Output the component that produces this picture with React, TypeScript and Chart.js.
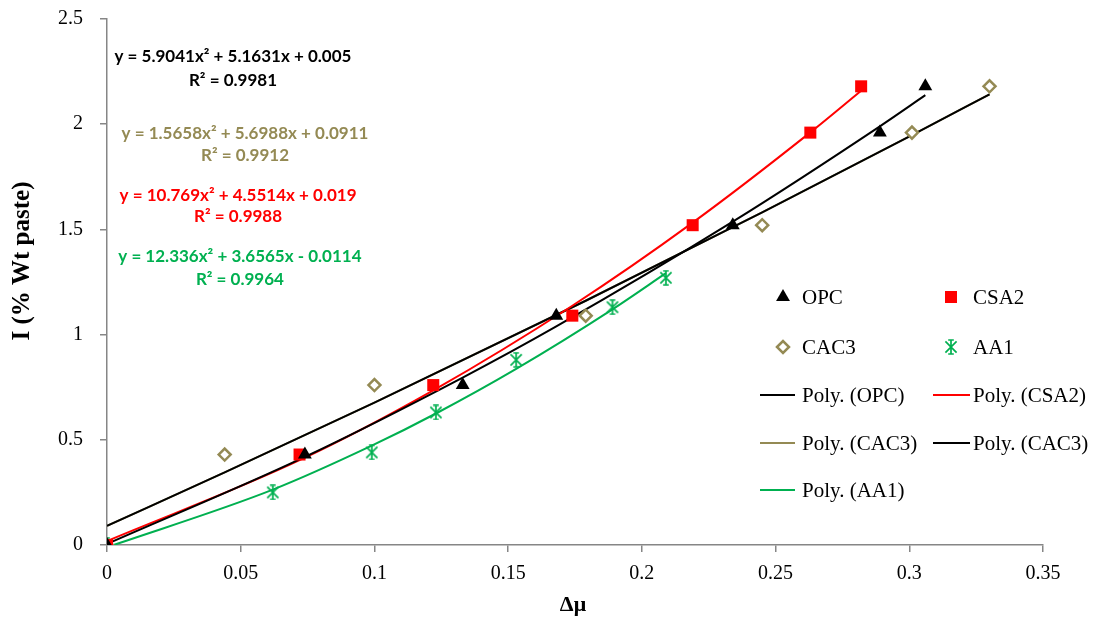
import React, { useEffect, useRef } from "react";
import { Chart, registerables } from "chart.js";

Chart.register(...registerables);

// ---------- data ----------
const xTicks = [0, 0.05, 0.1, 0.15, 0.2, 0.25, 0.3, 0.35];
const yTicks = [0, 0.5, 1, 1.5, 2, 2.5];

const opcX = [0, 0.074, 0.133, 0.168, 0.234, 0.289, 0.306];
const opcY = [0, 0.43, 0.76, 1.09, 1.52, 1.96, 2.18];
const csa2X = [0, 0.072, 0.122, 0.174, 0.219, 0.263, 0.282];
const csa2Y = [0, 0.43, 0.76, 1.09, 1.52, 1.96, 2.18];
const cac3X = [0, 0.044, 0.1, 0.179, 0.245, 0.301, 0.33];
const cac3Y = [0, 0.43, 0.76, 1.09, 1.52, 1.96, 2.18];
const aa1X = [0, 0.062, 0.099, 0.123, 0.153, 0.189, 0.209];
const aa1Y = [0, 0.25, 0.44, 0.63, 0.88, 1.13, 1.27];

// trendline values (fitted curves as shown) at the data x positions
const opcFitY = [0.005, 0.419, 0.796, 1.039, 1.537, 1.99, 2.138];
const csa2FitY = [0.019, 0.403, 0.735, 1.137, 1.532, 1.961, 2.159];
const cac3FitY = [0.091, 0.345, 0.677, 1.161, 1.581, 1.948, 2.142];
const aa1FitY = [-0.011, 0.263, 0.472, 0.625, 0.837, 1.12, 1.292];

const equations = [
  { text: "y = 5.9041x\u00b2 + 5.1631x + 0.005", r2: "R\u00b2 = 0.9981", color: "#000000", x: 0.0471, y: 2.32, y2: 2.21 },
  { text: "y = 1.5658x\u00b2 + 5.6988x + 0.0911", r2: "R\u00b2 = 0.9912", color: "#948A54", x: 0.0516, y: 1.958, y2: 1.849 },
  { text: "y = 10.769x\u00b2 + 4.5514x + 0.019", r2: "R\u00b2 = 0.9988", color: "#FF0000", x: 0.049, y: 1.663, y2: 1.559 },
  { text: "y = 12.336x\u00b2 + 3.6565x - 0.0114", r2: "R\u00b2 = 0.9964", color: "#00B050", x: 0.0497, y: 1.369, y2: 1.264 },
];

// ---------- styles ----------
const BLACK = "#000000";
const RED = "#FF0000";
const OLIVE = "#948A54";
const GREEN = "#00B050";
const AXIS = "#868686";
const SERIF = "'Liberation Serif', 'Times New Roman', serif";
const EQFONT = "Lato, 'Open Sans', sans-serif";

const pts = (xs: number[], ys: number[]) => xs.map((x, i) => ({ x, y: ys[i] }));
const fmt = (v: number) => String(parseFloat(v.toFixed(2)));

function makeStar(color: string, size: number): HTMLCanvasElement {
  const c = document.createElement("canvas");
  c.width = size;
  c.height = size;
  const g = c.getContext("2d")!;
  g.strokeStyle = color;
  g.lineWidth = 1.7;
  const m = size / 2;
  const r = size / 2 - 1;
  g.beginPath();
  g.moveTo(m, m - r);
  g.lineTo(m, m + r);
  g.moveTo(m - r * 0.4, m - r);
  g.lineTo(m + r * 0.4, m - r);
  g.moveTo(m - r * 0.4, m + r);
  g.lineTo(m + r * 0.4, m + r);
  g.moveTo(m - r * 0.8, m - r * 0.8);
  g.lineTo(m + r * 0.8, m + r * 0.8);
  g.moveTo(m + r * 0.8, m - r * 0.8);
  g.lineTo(m - r * 0.8, m + r * 0.8);
  g.stroke();
  return c;
}

function drawMarker(ctx: CanvasRenderingContext2D, kind: string, x: number, y: number, star: HTMLCanvasElement) {
  ctx.save();
  if (kind === "triangle") {
    const r = 8;
    ctx.fillStyle = BLACK;
    ctx.beginPath();
    ctx.moveTo(x, y - r);
    ctx.lineTo(x + r * 0.866, y + r * 0.5);
    ctx.lineTo(x - r * 0.866, y + r * 0.5);
    ctx.closePath();
    ctx.fill();
  } else if (kind === "rect") {
    ctx.fillStyle = RED;
    ctx.fillRect(x - 6, y - 6, 12, 12);
  } else if (kind === "diamond") {
    const r = 6;
    ctx.fillStyle = "#ffffff";
    ctx.strokeStyle = OLIVE;
    ctx.lineWidth = 2.5;
    ctx.beginPath();
    ctx.moveTo(x - r, y);
    ctx.lineTo(x, y - r);
    ctx.lineTo(x + r, y);
    ctx.lineTo(x, y + r);
    ctx.closePath();
    ctx.fill();
    ctx.stroke();
  } else if (kind === "star") {
    ctx.drawImage(star, x - star.width / 2, y - star.height / 2);
  }
  ctx.restore();
}

const legendEntries = [
  { label: "OPC", kind: "triangle", color: BLACK },
  { label: "CSA2", kind: "rect", color: RED },
  { label: "CAC3", kind: "diamond", color: OLIVE },
  { label: "AA1", kind: "star", color: GREEN },
  { label: "Poly. (OPC)", kind: "line", color: BLACK },
  { label: "Poly. (CSA2)", kind: "line", color: RED },
  { label: "Poly. (CAC3)", kind: "line", color: OLIVE },
  { label: "Poly. (CAC3)", kind: "line", color: BLACK },
  { label: "Poly. (AA1)", kind: "line", color: GREEN },
];

export default function App() {
  const ref = useRef<HTMLCanvasElement>(null);

  useEffect(() => {
    const star = makeStar(GREEN, 16);

    const overlay = {
      id: "overlay",
      afterDraw(chart: any) {
        const ctx: CanvasRenderingContext2D = chart.ctx;
        const ca = chart.chartArea;
        const xs = chart.scales.x;
        const ys = chart.scales.y;

        // equations
        ctx.save();
        ctx.textAlign = "center";
        ctx.textBaseline = "middle";
        ctx.font = `bold 17px ${EQFONT}`;
        for (const e of equations) {
          ctx.fillStyle = e.color;
          const px = xs.getPixelForValue(e.x);
          ctx.fillText(e.text, px, ys.getPixelForValue(e.y));
          ctx.fillText(e.r2, px, ys.getPixelForValue(e.y2));
        }
        ctx.restore();

        // legend
        const rowY = [278, 328, 376, 424, 471];
        const markerX = [676, 844];
        const textX = [695, 866];
        const lineX = [[653, 688], [826, 863]];
        ctx.save();
        ctx.font = `21px ${SERIF}`;
        ctx.textBaseline = "middle";
        ctx.textAlign = "left";
        legendEntries.forEach((en, i) => {
          const row = Math.floor(i / 2);
          const col = i % 2;
          const y = ca.top + rowY[row];
          if (en.kind === "line") {
            ctx.strokeStyle = en.color;
            ctx.lineWidth = 2;
            ctx.beginPath();
            ctx.moveTo(ca.left + lineX[col][0], y);
            ctx.lineTo(ca.left + lineX[col][1], y);
            ctx.stroke();
          } else {
            drawMarker(ctx, en.kind, ca.left + markerX[col], y, star);
          }
          ctx.fillStyle = "#000";
          ctx.fillText(en.label, ca.left + textX[col], y + 1);
        });
        ctx.restore();

        // axis titles
        ctx.save();
        ctx.fillStyle = "#000";
        ctx.textAlign = "center";
        ctx.textBaseline = "middle";
        ctx.font = `bold 22px ${SERIF}`;
        ctx.fillText("\u0394\u03bc", (ca.left + ca.right) / 2 - 2, ca.bottom + 60);
        ctx.translate(23, ca.top + 242);
        ctx.rotate(-Math.PI / 2);
        ctx.font = `bold 25px ${SERIF}`;
        ctx.fillText("I (% Wt paste)", 0, 0);
        ctx.restore();
      },
    };

    const tickFont = { family: SERIF, size: 20 };
    const lineCommon = { showLine: true, pointRadius: 0, borderWidth: 2, cubicInterpolationMode: "monotone" };

    const chart = new Chart(ref.current!, {
      type: "scatter",
      data: {
        datasets: [
          { label: "OPC", data: pts(opcX, opcY), pointStyle: "triangle", pointRadius: 8, backgroundColor: BLACK, borderColor: BLACK, borderWidth: 0, order: 0 },
          { label: "CSA2", data: pts(csa2X, csa2Y), pointStyle: "rect", pointRadius: 8.5, backgroundColor: RED, borderColor: RED, borderWidth: 0, order: 0 },
          { label: "CAC3", data: pts(cac3X, cac3Y), pointStyle: "rectRot", pointRadius: 6, backgroundColor: "#ffffff", borderColor: OLIVE, borderWidth: 2.5, order: 0 },
          { label: "AA1", data: pts(aa1X, aa1Y), pointStyle: star, pointRadius: 8, backgroundColor: GREEN, borderColor: GREEN, order: 0 },
          { label: "Poly. (OPC)", data: pts(opcX, opcFitY), ...lineCommon, borderColor: BLACK, order: 1 },
          { label: "Poly. (CSA2)", data: pts(csa2X, csa2FitY), ...lineCommon, borderColor: RED, order: 1 },
          { label: "Poly. (CAC3)", data: pts(cac3X, cac3FitY), ...lineCommon, borderColor: OLIVE, order: 2 },
          { label: "Poly. (CAC3) ", data: pts(cac3X, cac3FitY), ...lineCommon, borderColor: BLACK, order: 1 },
          { label: "Poly. (AA1)", data: pts(aa1X, aa1FitY), ...lineCommon, borderColor: GREEN, order: 1 },
        ] as any,
      },
      options: {
        animation: false,
        responsive: true,
        maintainAspectRatio: false,
        layout: { padding: { top: 19, right: 56, left: 0, bottom: 0 } },
        plugins: { legend: { display: false }, tooltip: { enabled: false } },
        scales: {
          x: {
            type: "linear",
            min: 0,
            max: 0.35,
            afterBuildTicks: (s: any) => {
              s.ticks = xTicks.map((v) => ({ value: v }));
            },
            afterFit: (s: any) => {
              s.height = 78;
              s.paddingLeft = 0;
              s.paddingRight = 0;
            },
            ticks: {
              callback: (v: any) => fmt(Number(v)),
              font: tickFont,
              color: "#000",
              padding: 10,
              maxRotation: 0,
              autoSkip: false,
            },
            grid: { drawOnChartArea: false, drawTicks: true, tickLength: 7, color: AXIS, lineWidth: 1.5 },
            border: { display: true, color: AXIS, width: 1.5 },
          },
          y: {
            type: "linear",
            min: 0,
            max: 2.5,
            afterBuildTicks: (s: any) => {
              s.ticks = yTicks.map((v) => ({ value: v }));
            },
            afterFit: (s: any) => {
              s.width = 107;
              s.paddingTop = 0;
              s.paddingBottom = 0;
            },
            ticks: {
              callback: (v: any) => fmt(Number(v)),
              font: tickFont,
              color: "#000",
              padding: 17,
              autoSkip: false,
            },
            grid: { drawOnChartArea: false, drawTicks: true, tickLength: 7, color: AXIS, lineWidth: 1.5 },
            border: { display: true, color: AXIS, width: 1.5 },
          },
        },
      } as any,
      plugins: [overlay],
    });

    return () => chart.destroy();
  }, []);

  return (
    <div style={{ position: "fixed", left: 0, top: 0, width: 1099, height: 623, background: "#ffffff" }}>
      <canvas ref={ref} />
    </div>
  );
}
